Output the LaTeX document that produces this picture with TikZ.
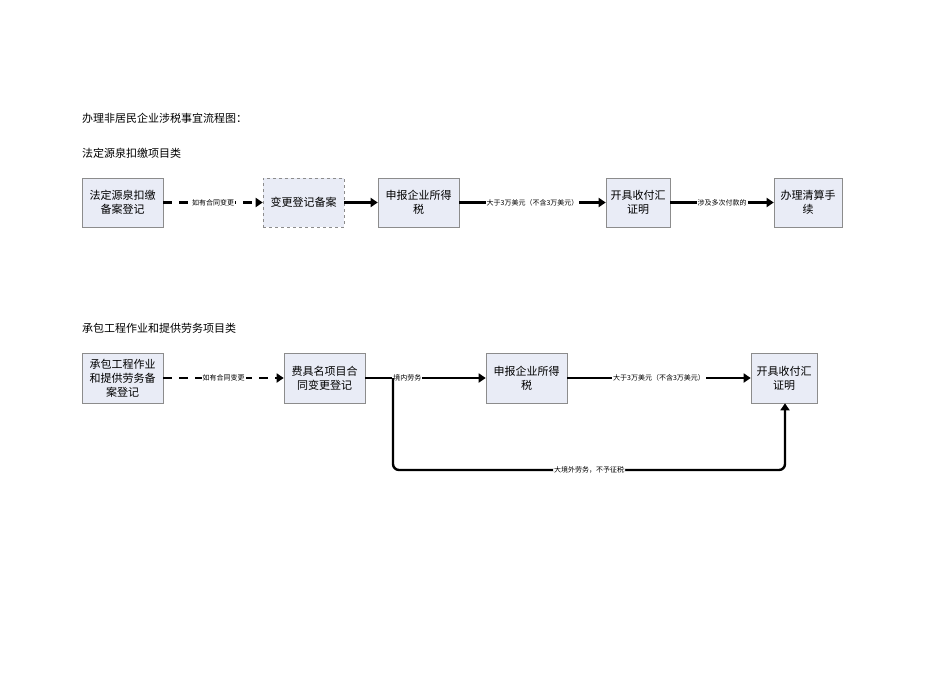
\documentclass[tikz,border=0pt]{standalone}
\usepackage{fontspec}
\setmainfont{Noto Sans CJK SC}
\usetikzlibrary{arrows.meta}
\definecolor{boxfill}{HTML}{E9ECF6}
\definecolor{boxline}{HTML}{8C8C8C}
\begin{document}
\begin{tikzpicture}[x=1pt,y=-1pt,
  box/.style={draw=boxline,fill=boxfill,line width=0.6pt,align=center,font=\fontsize{11}{14}\selectfont,inner sep=0pt},
  conn/.style={line width=2.4pt,-{Triangle[length=7pt,width=9pt]}},
  dconn/.style={conn,dash pattern=on 9pt off 7pt},
  lab/.style={fill=white,inner sep=1pt,font=\fontsize{7}{8}\selectfont},
  title/.style={anchor=west,font=\fontsize{11}{13}\selectfont,inner sep=0pt}]
\useasboundingbox (0,0) rectangle (950,672);
\node[title] (t0) at (82,118) {办理非居民企业涉税事宜流程图：};
\node[title] (t1) at (82,153) {法定源泉扣缴项目类};
\node[title] (t2) at (82,328) {承包工程作业和提供劳务项目类};
% row 1
\node[box,minimum width=81pt,minimum height=49pt] (a1) at (122.5,202.5) {法定源泉扣缴\\备案登记};
\node[box,dashed,minimum width=81pt,minimum height=49pt] (b1) at (303.5,202.5) {变更登记备案};
\node[box,minimum width=81pt,minimum height=49pt] (c1) at (418.5,202.5) {申报企业所得\\税};
\node[box,minimum width=64pt,minimum height=49pt] (d1) at (638,202.5) {开具收付汇\\证明};
\node[box,minimum width=68pt,minimum height=49pt] (e1) at (808,202.5) {办理清算手\\续};
\draw[dconn] (a1) -- node[lab]{如有合同变更} (b1);
\draw[conn] (b1) -- (c1);
\draw[conn] (c1) -- node[lab]{大于3万美元（不含3万美元）} (d1);
\draw[conn] (d1) -- node[lab]{涉及多次付款的} (e1);
% row 2
\node[box,minimum width=81pt,minimum height=50pt] (a2) at (122.5,378) {承包工程作业\\和提供劳务备\\案登记};
\node[box,minimum width=81pt,minimum height=50pt] (b2) at (324.5,378) {费具名项目合\\同变更登记};
\node[box,minimum width=81pt,minimum height=50pt] (c2) at (526.5,378) {申报企业所得\\税};
\node[box,minimum width=66pt,minimum height=50pt] (d2) at (784,378) {开具收付汇\\证明};
\draw[dconn] (a2) -- node[lab]{如有合同变更} (b2);
\draw[conn] (b2) -- node[lab,pos=0.35]{境内劳务} (c2);
\draw[conn] (c2) -- node[lab]{大于3万美元（不含3万美元）} (d2);
\coordinate (j) at (393,378);
\draw[conn,rounded corners=6pt] (j) -- (393,470) -- node[lab]{大境外劳务，不予征税} (785,470) -- (d2.south -| 785,0);
\end{tikzpicture}
\end{document}
